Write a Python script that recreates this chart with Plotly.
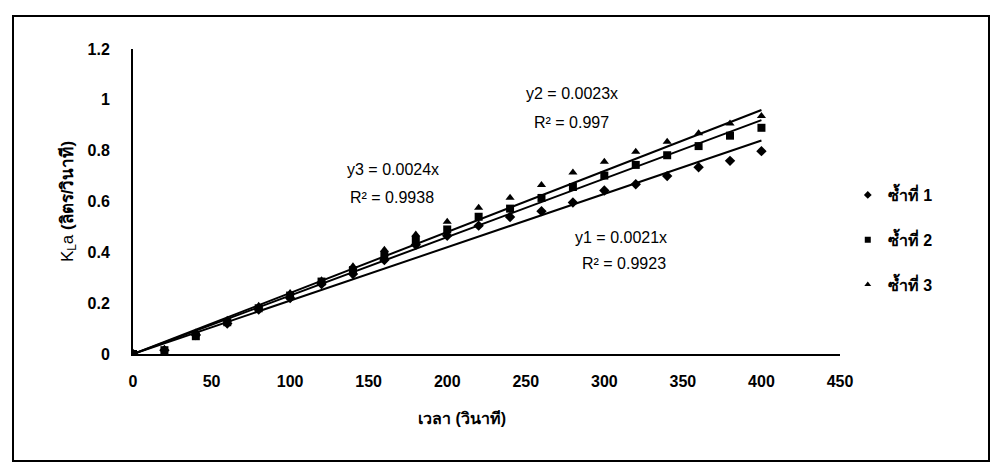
import plotly.graph_objects as go

# Elapsed time (s) and measured KLa for three replicate runs
time_s = [0, 20, 40, 60, 80, 100, 120, 140, 160, 180, 200,
          220, 240, 260, 280, 300, 320, 340, 360, 380, 400]
rep1 = [0, 0.015, 0.075, 0.12, 0.175, 0.22, 0.275, 0.315, 0.37, 0.43, 0.465,
        0.505, 0.539, 0.562, 0.596, 0.643, 0.668, 0.700, 0.735, 0.760, 0.798]
rep2 = [0, 0.015, 0.07, 0.125, 0.18, 0.23, 0.285, 0.33, 0.39, 0.45, 0.49,
        0.54, 0.572, 0.614, 0.657, 0.702, 0.744, 0.782, 0.818, 0.859, 0.890]
rep3 = [0, 0.02, 0.085, 0.135, 0.19, 0.24, 0.29, 0.345, 0.41, 0.47, 0.52,
        0.575, 0.615, 0.665, 0.714, 0.756, 0.796, 0.835, 0.869, 0.907, 0.936]

series_names = ["ซ้ำที่ 1", "ซ้ำที่ 2", "ซ้ำที่ 3"]
symbols = ["diamond", "square", "triangle-up"]

# Linear trendlines through the origin (y = a*x)
slopes = [0.0021, 0.0023, 0.0024]
r2 = [0.9923, 0.997, 0.9938]
fit_x = [0, 400]

x_ticks = [0, 50, 100, 150, 200, 250, 300, 350, 400, 450]
y_ticks = [0, 0.2, 0.4, 0.6, 0.8, 1, 1.2]
y_tick_text = ["0", "0.2", "0.4", "0.6", "0.8", "1", "1.2"]

FONT = "Liberation Sans, Arial, Noto Sans, sans-serif"

fig = go.Figure()

for vals, sym in zip([rep1, rep2, rep3], symbols):
    fig.add_trace(go.Scatter(
        x=time_s, y=vals, mode="markers", showlegend=False,
        marker=dict(symbol=sym, size=8, color="black"),
    ))

for a in slopes:
    fig.add_trace(go.Scatter(
        x=fit_x, y=[a * v for v in fit_x], mode="lines", showlegend=False,
        line=dict(color="black", width=2),
    ))

# Legend entries with small marker glyphs
for i, (name, sym) in enumerate(zip(series_names, symbols)):
    fig.add_trace(go.Scatter(
        x=[None], y=[None], mode="markers", name=name,
        legendgroup=f"g{i}",
        marker=dict(symbol=sym, size=6, color="black"),
    ))

# Trendline equation labels
eq_labels = [
    (310.6, 0.457, f"y1 = {slopes[0]}x"),
    (312.5, 0.358, f"R² = {r2[0]}"),
    (279.4, 1.024, f"y2 = {slopes[1]}x"),
    (279.4, 0.909, f"R² = {r2[1]}"),
    (165.5, 0.724, f"y3 = {slopes[2]}x"),
    (165.0, 0.614, f"R² = {r2[2]}"),
]
for x, y, txt in eq_labels:
    fig.add_annotation(x=x, y=y, xref="x", yref="y", text=txt, showarrow=False,
                       font=dict(family=FONT, size=16, color="black"))

# X-axis title
fig.add_annotation(x=(462 - 133) / 707, y=-(418 - 354) / 305, xref="paper", yref="paper",
                   xanchor="center", yanchor="middle",
                   text="เวลา (วินาที)", showarrow=False,
                   font=dict(family=FONT, size=16, color="black", weight="bold"))

# Outer chart border
fig.add_shape(type="rect", xref="paper", yref="paper",
              x0=(13 - 133) / 707, x1=(989 - 133) / 707,
              y0=-(461 - 354) / 305, y1=(354 - 16) / 305,
              line=dict(color="black", width=2))

fig.update_layout(
    width=992, height=464,
    margin=dict(l=133, r=152, t=49, b=110),
    paper_bgcolor="white", plot_bgcolor="white",
    font=dict(family=FONT, color="black"),
    showlegend=True,
    legend=dict(x=1.011, y=0.577, xanchor="left", yanchor="top",
                font=dict(family=FONT, size=16, color="black", weight="bold"),
                tracegroupgap=21, bgcolor="rgba(0,0,0,0)"),
    xaxis=dict(range=[0, 450], tickvals=x_ticks, showgrid=False, zeroline=False,
               showline=True, linecolor="black", linewidth=2, ticks="",
               ticklabelstandoff=12,
               tickfont=dict(family=FONT, size=16, color="black", weight="bold")),
    yaxis=dict(range=[0, 1.2], tickvals=y_ticks, ticktext=y_tick_text,
               showgrid=False, zeroline=False,
               showline=True, linecolor="black", linewidth=2, ticks="",
               ticklabelstandoff=18,
               tickfont=dict(family=FONT, size=16, color="black", weight="bold"),
               title=dict(text="K<sub>L</sub>a <b>(ลิตร/วินาที)</b>", standoff=10,
                          font=dict(family=FONT, size=17, color="black"))),
)

fig.write_html("out.html")
